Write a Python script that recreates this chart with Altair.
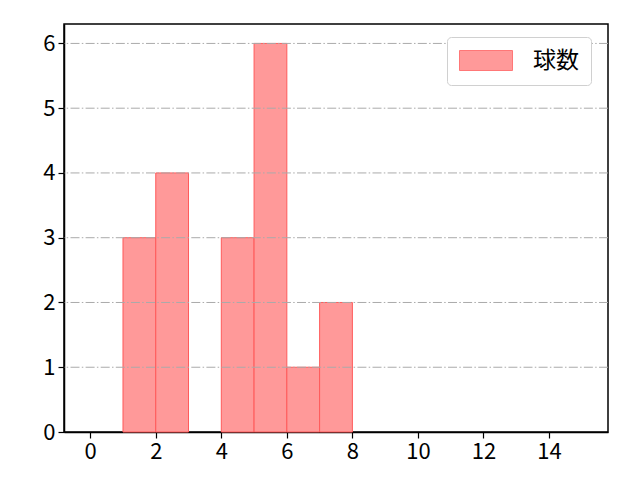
import altair as alt
import pandas as pd

# histogram bins (width 1) and counts
bin_left = [1, 2, 3, 4, 5, 6, 7]
bin_right = [2, 3, 4, 5, 6, 7, 8]
counts = [3, 4, 0, 3, 6, 1, 2]
series = "球数"

x_ticks = [0, 2, 4, 6, 8, 10, 12, 14]
y_ticks = [0, 1, 2, 3, 4, 5, 6]

FONT = "Noto Sans CJK JP"

df = pd.DataFrame({"lo": bin_left, "hi": bin_right, "n": counts, "s": series})
df = df[df["n"] > 0]
df["base"] = 0

x_scale = alt.Scale(domain=[-0.8, 15.8], nice=False, zero=False)
y_scale = alt.Scale(domain=[0, 6.3], nice=False)

bars = (
    alt.Chart(df)
    .mark_rect(stroke="#ff5a5a", strokeWidth=1)
    .encode(
        x=alt.X("lo:Q", scale=x_scale,
                axis=alt.Axis(values=x_ticks, grid=False, title=None,
                              labelFlush=False, format="d")),
        x2="hi:Q",
        y=alt.Y("n:Q", scale=y_scale,
                axis=alt.Axis(values=y_ticks, grid=False, title=None,
                              labelFlush=False, format="d")),
        y2="base:Q",
        color=alt.Color(
            "s:N",
            scale=alt.Scale(domain=[series], range=["#ff9999"]),
            legend=alt.Legend(
                title=None,
                orient="none",
                legendX=383,
                legendY=13,
                # wide patch drawn to the right of a 20px square slot
                symbolType="M-1.1,-1L4.2,-1L4.2,1L-1.1,1Z",
                symbolSize=400,
                symbolStrokeColor="#ff7777",
                symbolStrokeWidth=1,
                labelFontSize=23,
                labelFont=FONT,
                labelOffset=51,
                padding=12,
                strokeColor="#d0d0d0",
                cornerRadius=4,
                fillColor="white",
            ),
        ),
    )
)

grid = (
    alt.Chart(pd.DataFrame({"g": y_ticks[1:]}))
    .mark_rule(color="#aaaaaa", strokeWidth=1, strokeDash=[9, 2.3, 1.5, 2.3])
    .encode(y=alt.Y("g:Q", scale=y_scale))
)

chart = (
    alt.layer(bars, grid)
    .properties(
        width=544,
        height=408,
        autosize=alt.AutoSizeParams(type="none"),
        padding={"left": 56, "top": 16, "right": 24, "bottom": 48},
    )
    .configure_view(stroke="black", strokeWidth=1.5)
    .configure_axis(
        domainColor="black",
        domainWidth=1.5,
        tickColor="black",
        tickWidth=1.2,
        tickSize=6,
        labelFont=FONT,
        labelFontSize=22,
        labelColor="black",
        labelPadding=3,
    )
)

chart.save("out.html", embed_options={"renderer": "svg", "actions": False})
